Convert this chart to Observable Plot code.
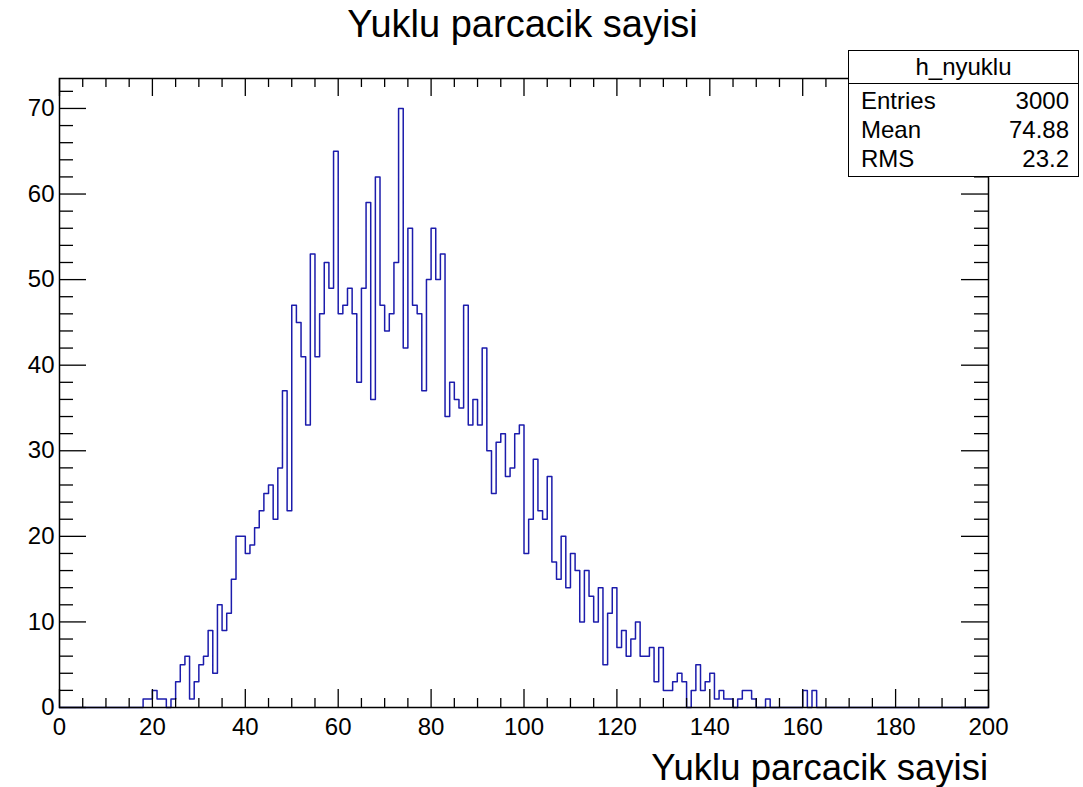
<!DOCTYPE html>
<html>
<head>
<meta charset="utf-8">
<script src="https://cdn.jsdelivr.net/npm/d3@7"></script>
<script src="https://cdn.jsdelivr.net/npm/@observablehq/plot@0.6"></script>
<style>
  html, body { margin: 0; padding: 0; background: #fff; }
  #page { position: relative; width: 1083px; height: 787px; overflow: hidden;
          font-family: "Liberation Sans", Arial, Helvetica, sans-serif; color: #000; }
  #page svg { position: absolute; left: 0; top: 0; }
  .abs { position: absolute; white-space: nowrap; line-height: 1; }
  #title { font-size: 38px; top: 5px; left: 0; width: 1045px; text-align: center; }
  #xtitle { font-size: 36.5px; top: 750px; right: 95px; }
  #stats { position: absolute; left: 848px; top: 50px; width: 231px; height: 127px;
           background: #fff; border: 1.3px solid #000; box-sizing: border-box; }
  #stats .head { position: absolute; left: 0; right: 0; top: 0; height: 32px;
                 border-bottom: 1.3px solid #000; font-size: 24px; text-align: center; line-height: 32px; }
  #stats .row { position: absolute; left: 12px; right: 9px; font-size: 24px; line-height: 1; }
  #stats .row .v { position: absolute; right: 0; top: 0; }
</style>
</head>
<body>
<div id="page"></div>
<script>
// Histogram h_nyuklu: 200 bins of width 1 on [0, 200)
const xMin = 0;
const xMax = 200;
const binCounts = [
  0, 0, 0, 0, 0, 0, 0, 0, 0, 0, 0, 0, 0, 0, 0, 0, 0, 0, 1, 1,
  2, 1, 1, 0, 1, 3, 5, 6, 1, 3, 5, 6, 9, 4, 12, 9, 11, 15, 20, 20,
  18, 19, 21, 23, 25, 26, 22, 28, 37, 23, 47, 45, 41, 33, 53, 41, 46, 52, 49, 65,
  46, 47, 49, 46, 38, 49, 59, 36, 62, 47, 44, 46, 52, 70, 42, 56, 47, 46, 37, 50,
  56, 50, 53, 34, 38, 36, 35, 47, 33, 36, 33, 42, 30, 25, 31, 32, 27, 28, 32, 33,
  18, 22, 29, 23, 22, 27, 17, 15, 20, 14, 18, 16, 10, 16, 13, 10, 14, 5, 11, 14,
  7, 9, 6, 8, 10, 6, 6, 7, 3, 7, 2, 2, 3, 4, 3, 0, 2, 5, 2, 3,
  4, 1, 2, 1, 1, 0, 1, 2, 2, 1, 0, 0, 1, 0, 0, 0, 0, 0, 0, 0,
  2, 0, 2, 0, 0, 0, 0, 0, 0, 0, 0, 0, 0, 0, 0, 0, 0, 0, 0, 0,
  0, 0, 0, 0, 0, 0, 0, 0, 0, 0, 0, 0, 0, 0, 0, 0, 0, 0, 0, 0
];
const yMax = 73.5;

// Axis tick values
const xMajorTicks = [0, 20, 40, 60, 80, 100, 120, 140, 160, 180, 200];
const xMinorTicks = d3.range(0, 201, 5).filter(v => v % 20 !== 0);
const yMajorTicks = [0, 10, 20, 30, 40, 50, 60, 70];
const yMinorTicks = d3.range(0, 73, 2).filter(v => v % 10 !== 0);

// Text
const titleText = "Yuklu parcacik sayisi";
const xTitleText = "Yuklu parcacik sayisi";
const statsName = "h_nyuklu";
const statsLabels = ["Entries", "Mean", "RMS"];
const statsValues = ["3000", "74.88", "23.2"];

// Step outline: one vertex per bin low edge, plus the closing upper edge
const binWidth = (xMax - xMin) / binCounts.length;
const outline = binCounts.map((c, i) => ({x: xMin + i * binWidth, y: c}));
outline.push({x: xMax, y: binCounts[binCounts.length - 1]});

const W = 1083, H = 787;
const mL = 59, mR = 95, mT = 78, mB = 80;
const frameW = W - mL - mR;
const frameH = H - mT - mB;

const tickColor = "#000";
const chart = Plot.plot({
  width: W,
  height: H,
  marginLeft: mL,
  marginRight: mR,
  marginTop: mT,
  marginBottom: mB,
  style: {fontFamily: "'Liberation Sans', Arial, Helvetica, sans-serif", background: "transparent", color: "#000"},
  x: {domain: [xMin, xMax]},
  y: {domain: [0, yMax]},
  marks: [
    Plot.line(outline, {x: "x", y: "y", curve: "step-after", stroke: "#1c1cac", strokeWidth: 1.5}),
    // bottom and top x ticks
    Plot.tickX(xMajorTicks, {x: d => d, insetTop: frameH - 18, stroke: tickColor, strokeWidth: 1.3}),
    Plot.tickX(xMinorTicks, {x: d => d, insetTop: frameH - 9, stroke: tickColor, strokeWidth: 1.3}),
    Plot.tickX(xMajorTicks, {x: d => d, insetBottom: frameH - 18, stroke: tickColor, strokeWidth: 1.3}),
    Plot.tickX(xMinorTicks, {x: d => d, insetBottom: frameH - 9, stroke: tickColor, strokeWidth: 1.3}),
    // left and right y ticks
    Plot.tickY(yMajorTicks, {y: d => d, insetRight: frameW - 27, stroke: tickColor, strokeWidth: 1.3}),
    Plot.tickY(yMinorTicks, {y: d => d, insetRight: frameW - 14, stroke: tickColor, strokeWidth: 1.3}),
    Plot.tickY(yMajorTicks, {y: d => d, insetLeft: frameW - 27, stroke: tickColor, strokeWidth: 1.3}),
    Plot.tickY(yMinorTicks, {y: d => d, insetLeft: frameW - 14, stroke: tickColor, strokeWidth: 1.3}),
    Plot.frame({stroke: "#000", strokeWidth: 1.5}),
    Plot.axisX(xMajorTicks, {tickSize: 0, tickPadding: 10, fontSize: 24, label: null, tickFormat: d => String(d)}),
    Plot.axisY(yMajorTicks, {tickSize: 0, tickPadding: 5, fontSize: 24, label: null, tickFormat: d => String(d)})
  ]
});

const page = document.getElementById("page");
page.appendChild(chart);

const title = document.createElement("div");
title.id = "title"; title.className = "abs"; title.textContent = titleText;
page.appendChild(title);

const xTitle = document.createElement("div");
xTitle.id = "xtitle"; xTitle.className = "abs"; xTitle.textContent = xTitleText;
page.appendChild(xTitle);

// Statistics box
const stats = document.createElement("div");
stats.id = "stats";
const head = document.createElement("div");
head.className = "head"; head.textContent = statsName;
stats.appendChild(head);
const rowTops = [38, 67, 96];
statsLabels.forEach((lab, i) => {
  const row = document.createElement("div");
  row.className = "row";
  row.style.top = rowTops[i] + "px";
  row.textContent = lab;
  const v = document.createElement("span");
  v.className = "v"; v.textContent = statsValues[i];
  row.appendChild(v);
  stats.appendChild(row);
});
page.appendChild(stats);
</script>
</body>
</html>
